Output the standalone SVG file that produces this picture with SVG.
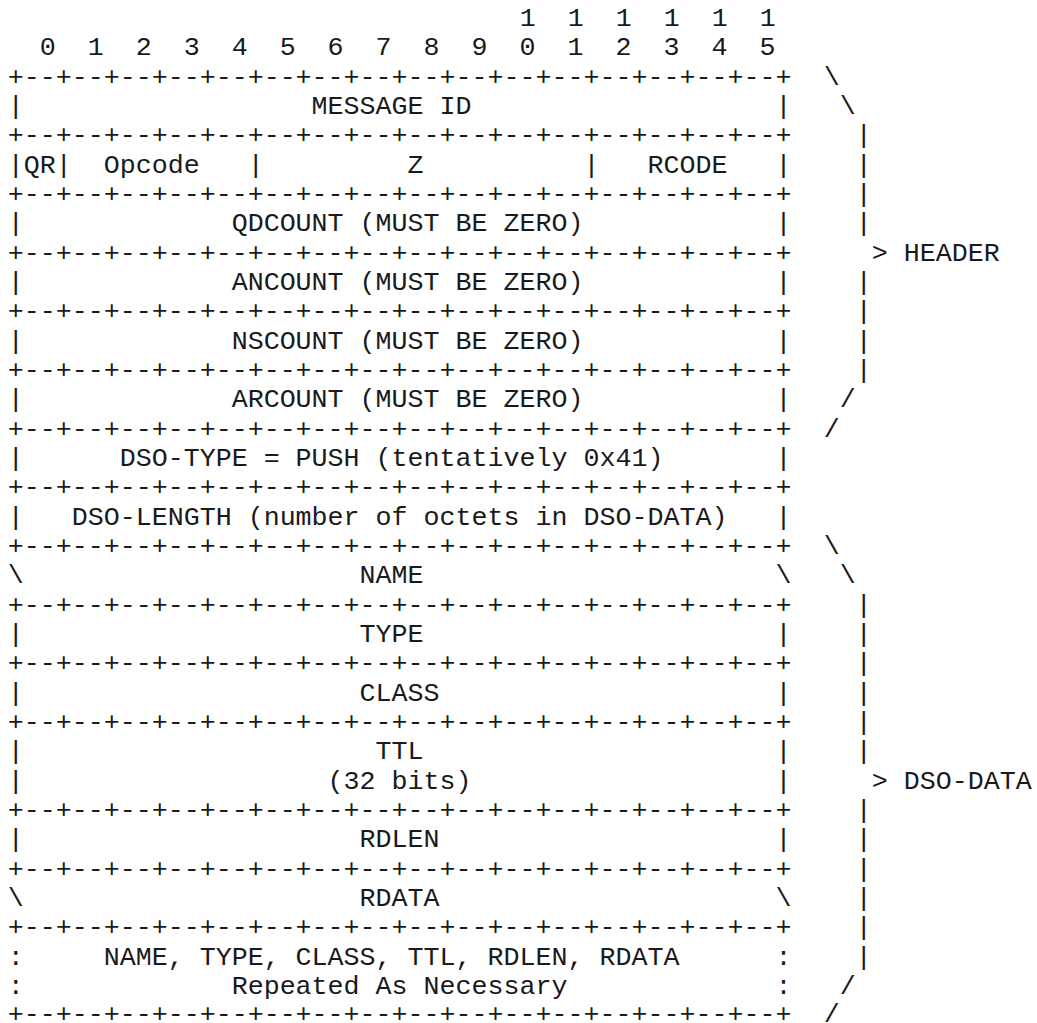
<svg xmlns="http://www.w3.org/2000/svg" width="1037" height="1023" viewBox="0 0 1037 1023" xml:space="preserve">
<style>
text{font-family:"Liberation Mono",monospace;font-size:26.667px;fill:#1a1a1a;white-space:pre}
</style>
<rect width="1037" height="1023" fill="#fff"/>
<g id="ruler">
<text x="519.7" y="26">1  1  1  1  1  1</text>
<text x="39.7" y="55.3">0  1  2  3  4  5  6  7  8  9  0  1  2  3  4  5</text>
</g>
<g id="borders">
<text x="7.7" y="84.7">+--+--+--+--+--+--+--+--+--+--+--+--+--+--+--+--+</text>
<text x="7.7" y="143.3">+--+--+--+--+--+--+--+--+--+--+--+--+--+--+--+--+</text>
<text x="7.7" y="202">+--+--+--+--+--+--+--+--+--+--+--+--+--+--+--+--+</text>
<text x="7.7" y="260.7">+--+--+--+--+--+--+--+--+--+--+--+--+--+--+--+--+</text>
<text x="7.7" y="319.3">+--+--+--+--+--+--+--+--+--+--+--+--+--+--+--+--+</text>
<text x="7.7" y="378">+--+--+--+--+--+--+--+--+--+--+--+--+--+--+--+--+</text>
<text x="7.7" y="436.7">+--+--+--+--+--+--+--+--+--+--+--+--+--+--+--+--+</text>
<text x="7.7" y="495.3">+--+--+--+--+--+--+--+--+--+--+--+--+--+--+--+--+</text>
<text x="7.7" y="554">+--+--+--+--+--+--+--+--+--+--+--+--+--+--+--+--+</text>
<text x="7.7" y="612.7">+--+--+--+--+--+--+--+--+--+--+--+--+--+--+--+--+</text>
<text x="7.7" y="671.3">+--+--+--+--+--+--+--+--+--+--+--+--+--+--+--+--+</text>
<text x="7.7" y="730">+--+--+--+--+--+--+--+--+--+--+--+--+--+--+--+--+</text>
<text x="7.7" y="818">+--+--+--+--+--+--+--+--+--+--+--+--+--+--+--+--+</text>
<text x="7.7" y="876.7">+--+--+--+--+--+--+--+--+--+--+--+--+--+--+--+--+</text>
<text x="7.7" y="935.3">+--+--+--+--+--+--+--+--+--+--+--+--+--+--+--+--+</text>
<text x="7.7" y="1021.5">+--+--+--+--+--+--+--+--+--+--+--+--+--+--+--+--+</text>
</g>
<g id="message-id">
<text x="7.7" y="114">|                  MESSAGE ID                   |</text>
</g>
<g id="flags">
<text x="7.7" y="172.7">|QR|  Opcode   |         Z          |   RCODE   |</text>
</g>
<g id="qdcount">
<text x="7.7" y="231.3">|             QDCOUNT (MUST BE ZERO)            |</text>
</g>
<g id="ancount">
<text x="7.7" y="290">|             ANCOUNT (MUST BE ZERO)            |</text>
</g>
<g id="nscount">
<text x="7.7" y="348.7">|             NSCOUNT (MUST BE ZERO)            |</text>
</g>
<g id="arcount">
<text x="7.7" y="407.3">|             ARCOUNT (MUST BE ZERO)            |</text>
</g>
<g id="dso-type">
<text x="7.7" y="466">|      DSO-TYPE = PUSH (tentatively 0x41)       |</text>
</g>
<g id="dso-length">
<text x="7.7" y="524.7">|   DSO-LENGTH (number of octets in DSO-DATA)   |</text>
</g>
<g id="name">
<text x="7.7" y="583.3">\                     NAME                      \</text>
</g>
<g id="type">
<text x="7.7" y="642">|                     TYPE                      |</text>
</g>
<g id="class">
<text x="7.7" y="700.7">|                     CLASS                     |</text>
</g>
<g id="ttl">
<text x="7.7" y="759.3">|                      TTL                      |</text>
<text x="7.7" y="788.7">|                   (32 bits)                   |</text>
</g>
<g id="rdlen">
<text x="7.7" y="847.3">|                     RDLEN                     |</text>
</g>
<g id="rdata">
<text x="7.7" y="906">\                     RDATA                     \</text>
</g>
<g id="repeated">
<text x="7.7" y="964.7">:     NAME, TYPE, CLASS, TTL, RDLEN, RDATA      :</text>
<text x="7.7" y="994">:             Repeated As Necessary             :</text>
</g>
<g id="connectors">
<g id="header-brace">
<text x="823.7" y="84.7">\</text>
<text x="839.7" y="114">\</text>
<text x="855.7" y="143.3">|</text>
<text x="855.7" y="172.7">|</text>
<text x="855.7" y="202">|</text>
<text x="855.7" y="231.3">|</text>
<text x="871.7" y="260.7">&gt; HEADER</text>
<text x="855.7" y="290">|</text>
<text x="855.7" y="319.3">|</text>
<text x="855.7" y="348.7">|</text>
<text x="855.7" y="378">|</text>
<text x="839.7" y="407.3">/</text>
<text x="823.7" y="436.7">/</text>
</g>
<g id="dso-data-brace">
<text x="823.7" y="554">\</text>
<text x="839.7" y="583.3">\</text>
<text x="855.7" y="612.7">|</text>
<text x="855.7" y="642">|</text>
<text x="855.7" y="671.3">|</text>
<text x="855.7" y="700.7">|</text>
<text x="855.7" y="730">|</text>
<text x="855.7" y="759.3">|</text>
<text x="871.7" y="788.7">&gt; DSO-DATA</text>
<text x="855.7" y="818">|</text>
<text x="855.7" y="847.3">|</text>
<text x="855.7" y="876.7">|</text>
<text x="855.7" y="906">|</text>
<text x="855.7" y="935.3">|</text>
<text x="855.7" y="964.7">|</text>
<text x="839.7" y="994">/</text>
<text x="823.7" y="1021.5">/</text>
</g>
</g>
</svg>
